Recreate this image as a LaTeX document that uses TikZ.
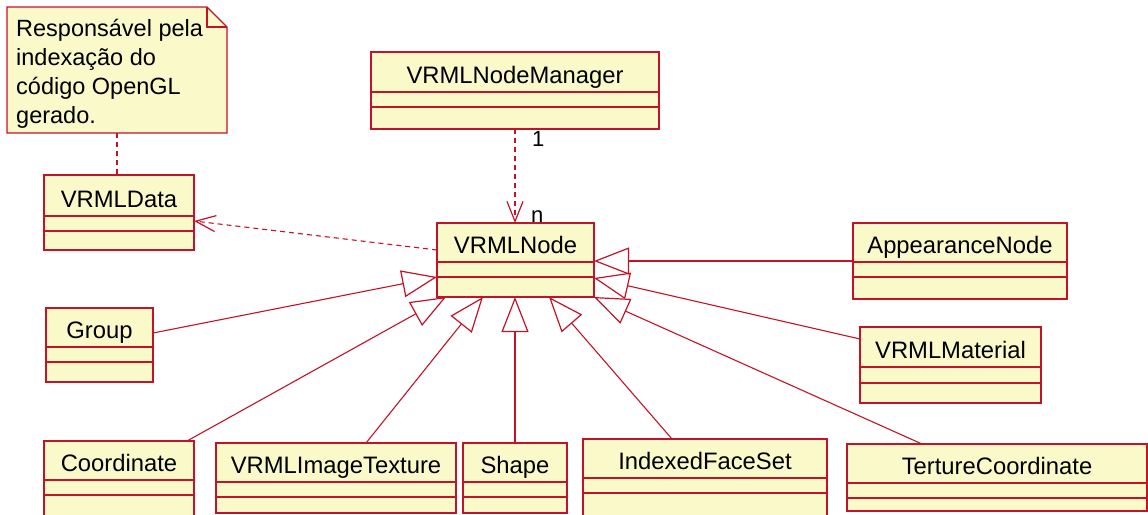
\documentclass[tikz,border=0pt]{standalone}
\usepackage{fontspec}
\setmainfont{Liberation Sans}
\usetikzlibrary{arrows.meta,fit}

\definecolor{umlred}{RGB}{196,18,40}
\definecolor{umlfill}{RGB}{249,249,202}

\tikzset{
  classbox/.style={draw=umlred, fill=umlfill, line width=1.3pt, inner sep=0pt, outer sep=0pt},
  sepline/.style={draw=umlred, line width=1.2pt},
  classtitle/.style={font=\fontsize{23.8}{28}\selectfont, inner sep=0pt, text=black},
  multlabel/.style={font=\fontsize{22}{26}\selectfont, inner sep=0pt, text=black},
  notetext/.style={font=\fontsize{23.5}{29.2}\selectfont, inner sep=0pt, text=black, align=left},
  gen/.style={draw=umlred, line width=1.1pt,
    -{Triangle[open, length=35pt, width=27pt, line width=1.2pt]}},
  dep/.style={draw=umlred, line width=1.1pt, dash pattern=on 5pt off 4pt,
    -{Straight Barb[length=20pt, width=16pt, line width=1.2pt]}},
  notelink/.style={draw=umlred, line width=1.1pt, dash pattern=on 5pt off 4pt},
}

% name, x1, y1, x2, y2, first separator, second separator, title
\newcommand\umlclass[8]{%
  \node[classbox, fit={(#2,#3) (#4,#5)}] (#1) {};
  \draw[sepline] (#2,#6) -- (#4,#6) (#2,#7) -- (#4,#7);
  \node[classtitle, anchor=base] (#1-title) at ({(#2+#4)/2},{#6-8.5}) {#8};
}

\begin{document}
\begin{tikzpicture}[x=1pt, y=-1pt]
  \useasboundingbox (0,0) rectangle (1148,514);
  \clip (0,0) rectangle (1148,514);

  % note with folded corner
  \node[inner sep=0pt, outer sep=0pt, fit={(7,7) (227,133)}] (note) {};
  \draw[draw=umlred, fill=umlfill, line width=1.3pt, line join=miter]
    (note.north west) -- ([xshift=-20pt]note.north east)
    -- ([yshift=-20pt]note.north east) -- (note.south east)
    -- (note.south west) -- cycle;
  \draw[draw=umlred, line width=1.1pt]
    ([xshift=-20pt]note.north east) |- ([yshift=-20pt]note.north east);
  \node[notetext, anchor=north west] (notebody) at (16,18.5)
    {Responsável pela\\indexação do\\código OpenGL\\gerado.};

  % classes
  \umlclass{data}{44}{175}{194}{250}{216}{231}{VRMLData}
  \umlclass{manager}{371}{52}{659}{129}{92}{107}{VRMLNodeManager}
  \umlclass{vnode}{437}{223}{594}{297}{262}{277}{VRMLNode}
  \umlclass{appearance}{853}{223}{1067}{299}{262}{277}{AppearanceNode}
  \umlclass{group}{46}{308}{153}{382}{347}{362}{Group}
  \umlclass{material}{860}{327}{1041}{403}{367}{383}{VRMLMaterial}
  \umlclass{coordinate}{44}{441}{194}{518}{480}{495}{Coordinate}
  \umlclass{imagetex}{216}{443}{456}{513}{482}{497}{VRMLImageTexture}
  \umlclass{shape}{463}{443}{567}{513}{482}{497}{Shape}
  \umlclass{faceset}{583}{439}{827}{518}{478}{493}{IndexedFaceSet}
  \umlclass{texcoord}{847}{444}{1147}{511}{483}{498}{TertureCoordinate}

  % note attachment
  \draw[notelink] (note.south) -- (note.south |- data.north);

  % dependencies
  \draw[dep] (manager.south) -- (manager.south |- vnode.north);
  \node[multlabel, anchor=base west] (mult-one) at (532,146) {1};
  \node[multlabel, anchor=base west] (mult-n) at (531,222) {n};
  \draw[dep] ([yshift=10pt]vnode.west) -- ([yshift=-8.5pt]data.east);

  % generalizations
  \draw[gen] (appearance.west) -- (appearance.west -| vnode.east);
  \draw[gen] ([yshift=26pt]material.west) -- ([yshift=-18pt]vnode.east);
  \draw[gen] ([xshift=-75pt]texcoord.north) -- (vnode.south east);
  \draw[gen] ([xshift=-33pt]faceset.north) -- ([xshift=33.5pt]vnode.south);
  \draw[gen] (shape.north) -- (shape.north |- vnode.south);
  \draw[gen] ([xshift=30pt]imagetex.north) -- ([xshift=-32.5pt]vnode.south);
  \draw[gen] ([xshift=68pt]coordinate.north) -- ([xshift=9pt]vnode.south west);
  \draw[gen] ([yshift=12pt]group.east) -- ([yshift=-17pt]vnode.west);
\end{tikzpicture}
\end{document}
